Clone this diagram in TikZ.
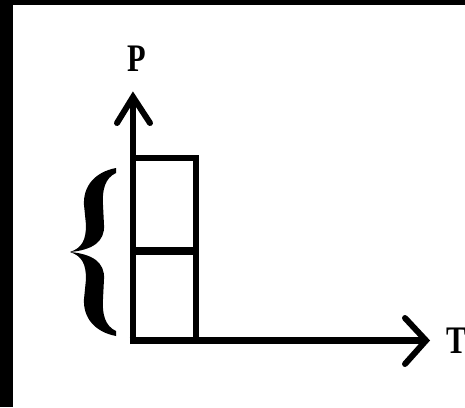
\documentclass[tikz,border=0pt]{standalone}
\usepackage{fontspec}
\setmainfont{Liberation Serif}
\begin{document}
\begin{tikzpicture}[x=1pt,y=-1pt,
  axis/.style={line width=6.5pt},
  tipline/.style={line width=6pt,line cap=round,line join=miter},
  boxline/.style={line width=6.5pt},
  lbl/.style={font=\fontsize{39}{39}\selectfont\bfseries,inner sep=0pt,xscale=0.78}]
\useasboundingbox (0,0) rectangle (465,407);
\fill[white] (0,0) rectangle (465,407);
% frame bands
\fill[black] (0,0) rectangle (12.5,407);
\fill[black] (0,0) rectangle (465,5);
% coordinates
\coordinate (O) at (133,344);
\coordinate (Ox) at (129.5,340.5);
\coordinate (ytip) at (133,97);
\coordinate (ya1) at (117,123);
\coordinate (ya2) at (150,123);
\coordinate (xtip) at (426,340.5);
\coordinate (xa1) at (405,318);
\coordinate (xa2) at (405,364);
\coordinate (r1) at (130,158);
\coordinate (r2) at (196,158);
\coordinate (r3) at (196,340);
\coordinate (m1) at (130,251);
\coordinate (m2) at (199,251);
% axes
\draw[axis] (O) -- (ytip);
\draw[axis] (Ox) -- (xtip);
\draw[tipline] (ya1) -- (ytip) -- (ya2);
\draw[tipline] (xa1) -- (xtip) -- (xa2);
% boxes
\draw[boxline,line join=miter] (r1) -- (r2) -- (r3);
\draw[line width=8.5pt] (m1) -- (m2);
% brace
\fill[black] (70,252) .. controls (82,248) and (86,240) .. (86,225)
  -- (84,205) .. controls (83,186) and (95,172) .. (116,168)
  -- (116,173) .. controls (105,178) and (102,190) .. (103,205)
  -- (104,225) .. controls (105,242) and (92,250) .. (70,252)
  .. controls (92,254) and (105,262) .. (104,279)
  -- (103,299) .. controls (102,314) and (105,326) .. (116,331)
  -- (116,336) .. controls (95,332) and (83,318) .. (84,299)
  -- (86,279) .. controls (86,264) and (82,256) .. (70,252) -- cycle;
% labels
\node[lbl] (P) at (136.5,59) {P};
\node[lbl,anchor=west] (T) at (446,340.5) {T};
\end{tikzpicture}
\end{document}
